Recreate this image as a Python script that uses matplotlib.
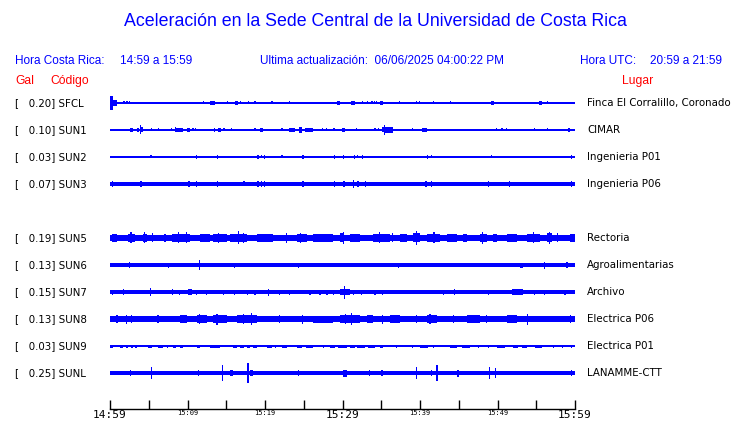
import numpy as np
import matplotlib
matplotlib.use('Agg')
import matplotlib.pyplot as plt
import matplotlib.transforms as mtransforms

# stations (top to bottom), row 4 is left empty in the original display
stations = ['SFCL', 'SUN1', 'SUN2', 'SUN3', 'SUN5', 'SUN6', 'SUN7', 'SUN8', 'SUN9', 'SUNL']
rows = [0, 1, 2, 3, 5, 6, 7, 8, 9, 10]
gal = [0.20, 0.10, 0.03, 0.07, 0.19, 0.13, 0.15, 0.13, 0.03, 0.25]
places = ['Finca El Corralillo, Coronado', 'CIMAR', 'Ingenieria P01', 'Ingenieria P06',
          'Rectoria', 'Agroalimentarias', 'Archivo', 'Electrica P06', 'Electrica P01',
          'LANAMME-CTT']

# background noise level of each trace (display units)
base = [0.7, 0.7, 0.6, 1.8, 3.3, 1.6, 1.8, 2.7, 0.6, 1.8]

# bursts: (start minute, end minute, half amplitude)
sfcl_events = [(0.0, 0.4, 7), (0.4, 0.9, 3), (1.8, 1.8, 1.5), (2.2, 2.2, 1.5), (2.5, 2.5, 1.5),
               (12.1, 12.1, 1.5), (12.9, 13.5, 2), (13.8, 13.8, 1.2), (15.2, 15.2, 1.5),
               (15.5, 15.5, 1.2), (16.1, 16.5, 2), (16.8, 16.8, 1.5), (17.9, 17.9, 1.5),
               (18.7, 18.7, 1.5), (20.9, 20.9, 1.5), (22.6, 22.6, 1.2), (23.2, 23.2, 1.5),
               (28.3, 28.3, 1.2), (29.3, 29.7, 2.2), (30.7, 30.7, 1.2), (31.1, 31.6, 2.2),
               (32.6, 32.6, 1.5), (33.2, 33.2, 1.5), (33.8, 33.8, 1.5), (34.1, 34.1, 1.5),
               (34.4, 34.4, 1.5), (34.8, 35.2, 2.2), (37.4, 37.4, 1.5), (39.6, 39.6, 1.5),
               (39.9, 39.9, 1.5), (41.7, 41.7, 1.5), (43.9, 43.9, 1.5), (47.2, 47.2, 1.2),
               (48.4, 48.4, 1.2), (49.2, 49.5, 2.2), (50.2, 50.2, 1.2), (51.9, 51.9, 1.2),
               (55.3, 55.7, 2.2), (56.4, 56.4, 1.5), (57.8, 57.8, 1.2)]
sun1_events = [(0.3, 0.3, 1.2), (2.6, 3.0, 2), (3.5, 3.8, 2), (3.9, 3.9, 4.5), (4.0, 4.2, 2.5),
               (5.4, 5.4, 1.5), (5.8, 5.8, 1.2), (6.3, 6.3, 1.5), (7.9, 7.9, 1.5), (8.4, 9.4, 2),
               (8.5, 8.5, 2.5), (9.9, 10.3, 2), (10.7, 10.7, 1.5), (11.0, 11.0, 1.5),
               (13.5, 13.5, 2), (13.9, 14.3, 2), (14.7, 14.7, 1.5), (15.7, 15.7, 1.5),
               (16.5, 16.5, 1.2), (18.7, 18.7, 1.5), (19.4, 19.7, 2.2), (21.9, 21.9, 1.2),
               (22.2, 22.2, 1.5), (23.1, 23.9, 2.2), (24.4, 24.8, 3), (25.2, 26.2, 2.2),
               (27.4, 27.4, 1.5), (27.9, 27.9, 1.5), (28.6, 28.6, 1.2), (28.9, 28.9, 1.5),
               (29.9, 30.3, 2), (30.6, 30.6, 1.2), (31.7, 31.9, 1.5), (33.4, 33.4, 1.2),
               (33.8, 33.8, 1.2), (34.2, 34.2, 1.5), (34.6, 34.6, 1.5), (35.1, 35.3, 2.5),
               (35.4, 35.4, 5), (35.5, 36.5, 3), (37.0, 37.0, 1.2), (37.8, 37.8, 1.2),
               (39.0, 39.0, 1.5), (40.2, 40.9, 1.8), (42.2, 42.2, 1.2), (42.8, 42.8, 1.2),
               (46.2, 46.2, 1.2), (49.9, 49.9, 1.5), (50.4, 50.7, 1.5), (51.2, 51.2, 1.5),
               (51.9, 51.9, 1.2), (54.8, 54.8, 1.5), (56.4, 56.4, 1.5), (57.0, 57.0, 1.2),
               (59.1, 59.3, 2)]
sun2_events = [(5.3, 5.3, 1.5), (8.9, 8.9, 1.2), (9.8, 9.8, 1.2), (11.2, 11.2, 2), (13.9, 13.9, 2),
               (19.1, 19.1, 2), (19.5, 19.5, 1.5), (19.9, 19.9, 2), (22.2, 22.2, 1.5),
               (24.9, 24.9, 2), (28.6, 28.6, 1.2), (29.0, 29.0, 2), (30.1, 30.1, 2),
               (31.2, 31.2, 1.2), (31.5, 31.5, 2), (31.9, 31.9, 1.5), (32.6, 32.6, 2),
               (39.7, 39.7, 1.2), (40.6, 40.6, 1.2), (41.0, 41.0, 2), (41.5, 41.5, 1.5),
               (49.2, 49.2, 1.5), (51.5, 51.5, 1.2), (55.1, 55.1, 1.2), (59.6, 59.6, 2)]
sun3_events = [(0.3, 0.3, 3), (4.0, 4.0, 3), (10.2, 10.2, 3), (11.2, 11.2, 3), (13.9, 13.9, 3),
               (17.3, 17.3, 2.5), (19.1, 19.1, 3), (19.5, 19.5, 3), (19.9, 19.9, 3),
               (24.9, 24.9, 3), (29.0, 29.0, 3), (30.2, 30.2, 3), (31.4, 31.4, 4),
               (32.0, 32.0, 3), (33.0, 33.0, 3), (40.6, 40.9, 3), (41.5, 41.5, 3),
               (48.8, 48.8, 3), (51.5, 51.5, 3), (59.6, 59.6, 3)]
sun5_events = [(0.3, 0.9, 4), (2.3, 3.2, 4.3), (2.7, 2.7, 5.5), (4.3, 4.8, 4.3), (4.5, 4.5, 5.5),
               (5.5, 5.5, 4.5), (7.1, 7.1, 4), (8.0, 10.3, 3.9), (8.8, 8.8, 5.5), (9.9, 9.9, 5.5),
               (11.6, 12.9, 3.8), (13.3, 15.1, 4.2), (14.0, 14.0, 5.3), (15.5, 17.7, 4.3),
               (16.6, 16.6, 6.5), (17.2, 17.2, 5.3), (19.0, 21.0, 3.8), (22.8, 22.8, 5),
               (24.1, 25.4, 4.2), (24.6, 24.6, 5.3), (26.2, 28.8, 3.8), (29.7, 30.1, 4.5),
               (30.1, 30.1, 6), (31.0, 32.3, 3.8), (33.9, 36.1, 4.2), (34.8, 34.8, 5.5),
               (36.4, 36.4, 4.5), (37.4, 38.3, 3.8), (39.1, 40.0, 4.5), (39.6, 39.6, 7),
               (40.9, 42.6, 4.2), (41.8, 41.8, 5.5), (43.5, 44.8, 3.8), (45.5, 46.1, 3.8),
               (47.7, 48.6, 4.3), (48.1, 48.1, 6), (49.4, 49.9, 3.8), (51.2, 52.5, 3.8),
               (53.8, 55.5, 4.3), (54.6, 54.6, 5.5), (56.4, 57.0, 4.5), (56.7, 56.7, 6),
               (57.7, 57.7, 4.5), (59.4, 60.0, 4)]
sun6_events = [(0.3, 0.6, 2.2), (1.3, 1.3, 2), (2.5, 2.5, 3), (7.5, 7.5, 2.5), (9.9, 10.7, 2.3),
               (11.2, 11.2, 2.2), (11.5, 11.5, 5), (16.1, 16.1, 2.5), (21.8, 21.8, 2),
               (24.3, 24.3, 2.5), (26.2, 26.2, 2.2), (28.0, 28.0, 2.2), (37.2, 37.2, 2.5),
               (39.0, 39.0, 2.2), (43.0, 43.0, 2), (52.9, 53.3, 2.5), (54.5, 54.5, 2.2),
               (56.1, 56.1, 3.5), (58.8, 59.1, 3)]
sun7_events = [(0.3, 0.3, 2.5), (1.7, 1.7, 3), (5.2, 5.2, 4), (8.1, 8.1, 3), (9.0, 9.0, 2.5),
               (10.1, 10.6, 3), (11.2, 11.2, 2.5), (12.5, 12.5, 2.5), (14.6, 14.6, 2.5),
               (16.1, 16.1, 2.5), (17.7, 17.7, 2.5), (18.7, 18.7, 2.5), (20.5, 20.5, 3.5),
               (21.9, 21.9, 2.5), (23.2, 23.2, 2.5), (25.8, 25.8, 2.5), (27.1, 27.1, 2.5),
               (28.0, 28.0, 2.5), (28.8, 28.8, 2.5), (29.7, 31.0, 3.2), (30.3, 30.3, 6.5),
               (31.4, 31.4, 2.5), (32.5, 32.5, 2.5), (34.2, 34.2, 2.5), (35.2, 35.2, 2.5),
               (43.0, 43.0, 2.5), (44.4, 44.4, 3), (48.8, 48.8, 2.5), (51.9, 53.3, 2.6),
               (54.8, 54.8, 2.5), (56.1, 56.1, 2.5), (58.7, 58.7, 2.5)]
sun8_events = [(0.0, 3.5, 3.2), (0.9, 0.9, 4), (2.1, 2.1, 4.5), (2.8, 2.8, 4), (4.3, 9.0, 3.0),
               (6.2, 6.2, 4), (9.0, 9.9, 3.6), (11.2, 12.5, 3.8), (11.6, 11.6, 5),
               (13.3, 15.1, 3.9), (13.8, 13.8, 5.5), (16.4, 19.0, 3.9), (18.3, 18.3, 6),
               (17.2, 17.2, 5), (21.9, 21.9, 4), (24.8, 24.8, 4.5), (26.2, 28.8, 3.5),
               (29.7, 32.3, 3.9), (31.2, 31.2, 6), (30.4, 30.4, 5), (33.2, 33.9, 3.6),
               (35.2, 35.2, 4.5), (36.1, 37.4, 3.6), (39.6, 39.6, 4), (40.9, 42.2, 3.9),
               (41.3, 41.3, 5), (44.3, 44.3, 4), (46.1, 47.7, 3.6), (48.6, 48.6, 4),
               (51.2, 52.5, 3.6), (53.9, 53.9, 5.5), (55.5, 57.7, 3.3), (59.4, 59.4, 4)]
sun9_events = [(0.0, 0.4, 1.5), (1.3, 1.7, 1.5), (2.2, 2.2, 1.5), (2.7, 3.0, 1.5), (3.2, 3.5, 1.5),
               (4.9, 5.4, 1.5), (6.2, 6.8, 1.5), (7.4, 7.4, 1.5), (8.1, 8.5, 1.5), (9.0, 9.4, 1.5),
               (11.2, 11.6, 1.5), (12.9, 14.2, 1.5), (15.9, 16.4, 1.5), (16.8, 17.3, 1.5),
               (17.7, 18.1, 1.5), (18.4, 19.0, 1.5), (20.3, 20.9, 1.5), (21.4, 21.4, 1.5),
               (22.2, 22.8, 1.5), (24.1, 24.8, 1.5), (25.3, 26.2, 1.5), (27.5, 27.5, 1.5),
               (28.4, 29.0, 1.5), (29.4, 30.6, 1.5), (31.0, 31.6, 1.5), (31.9, 32.9, 1.5),
               (33.3, 34.2, 1.5), (34.8, 35.2, 1.5), (37.0, 37.0, 1.5), (39.0, 39.0, 1.5),
               (40.0, 41.0, 1.5), (41.7, 41.7, 1.5), (43.9, 44.8, 1.5), (45.4, 46.4, 1.5),
               (47.5, 47.5, 1.5), (48.8, 48.8, 1.5), (49.9, 51.0, 1.5), (52.0, 52.6, 1.5),
               (53.2, 53.8, 1.5), (54.8, 55.7, 1.5), (57.2, 57.2, 1.5), (58.4, 58.4, 1.5),
               (59.6, 59.6, 1.5)]
sunl_events = [(0.3, 0.3, 2.2), (1.3, 1.3, 2.2), (2.6, 2.6, 2.8), (5.4, 5.4, 6), (6.8, 6.8, 2.2),
               (8.8, 8.8, 2.2), (9.4, 9.4, 2.2), (10.3, 10.3, 2.2), (11.4, 11.4, 2.8),
               (14.5, 14.5, 8), (15.5, 15.9, 3), (17.8, 17.8, 10), (18.1, 18.4, 3.2),
               (20.4, 20.4, 2.2), (21.9, 21.9, 2.2), (22.6, 22.6, 2.2), (24.3, 24.3, 3),
               (26.2, 26.2, 2.2), (28.1, 28.1, 2.2), (30.1, 30.6, 3.5), (31.2, 31.2, 2.2),
               (32.3, 32.3, 2.2), (33.5, 33.5, 2.8), (35.1, 35.1, 3), (35.9, 35.9, 2.2),
               (37.0, 37.0, 2.2), (38.1, 38.1, 2.2), (39.1, 39.1, 2.2), (39.6, 39.6, 6),
               (41.5, 41.5, 3), (42.2, 42.2, 8), (43.5, 43.5, 2.2), (44.9, 44.9, 3.5),
               (49.0, 49.0, 6), (49.7, 49.7, 5), (50.7, 50.7, 2.2), (52.0, 52.0, 2.2),
               (53.9, 53.9, 2.2), (55.2, 55.2, 2.2), (57.2, 57.2, 2.2), (58.3, 58.3, 2.2),
               (59.6, 59.6, 3)]
events = [sfcl_events, sun1_events, sun2_events, sun3_events, sun5_events,
          sun6_events, sun7_events, sun8_events, sun9_events, sunl_events]

# time axis, minutes after 14:59
tick_minutes = list(range(0, 61, 5))
tick_labels = ['14:59', '', '15:09', '', '15:19', '', '15:29', '', '15:39', '', '15:49', '', '15:59']
big_labels = ['14:59', '15:29', '15:59']

blue = '#0000ff'
red = '#ff0000'
W, H = 740, 423
spacing = 27

fig = plt.figure(figsize=(7.4, 4.23), dpi=100)
ax = fig.add_axes([110 / W, 1 - 409 / H, 465 / W, 319 / H])
ax.set_xlim(0, 60)
ax.set_ylim(409 - 103, 90 - 103)

for i in range(len(stations)):
    off = rows[i] * spacing
    b = base[i]
    ax.fill_between([0, 60], off - b, off + b, color=blue, linewidth=0)
    t0 = np.array([e[0] for e in events[i]])
    t1 = np.array([e[1] for e in events[i]])
    amp = np.array([e[2] for e in events[i]])
    width = np.maximum(t1 - t0, 0.15)
    ax.bar((t0 + t1) / 2, 2 * amp, width=width, bottom=off - amp, color=blue,
           linewidth=0, antialiased=False)

# row labels
trans = mtransforms.blended_transform_factory(ax.transAxes, ax.transData)
for i in range(len(stations)):
    off = rows[i] * spacing
    ax.text(-95 / 465, off, '[   %.2f] %s' % (gal[i], stations[i]), transform=trans,
            ha='left', va='center', fontsize=7.4, family='DejaVu Sans', color='black')
    ax.text(477 / 465, off, places[i], transform=trans,
            ha='left', va='center', fontsize=7.4, family='DejaVu Sans', color='black')

for s in ['top', 'left', 'right']:
    ax.spines[s].set_visible(False)
ax.spines['bottom'].set_linewidth(1)
ax.set_yticks([])
ax.set_xticks(tick_minutes)
ax.set_xticklabels(tick_labels)
ax.tick_params(axis='x', direction='in', length=6.5, width=1, pad=1)
for lab in ax.get_xticklabels():
    lab.set_family('DejaVu Sans Mono')
    if lab.get_text() in big_labels:
        lab.set_fontsize(8)
    else:
        lab.set_fontsize(5)

# header texts
hfont = 'Liberation Sans'
fig.text(0.508, 1 - 22 / H, 'Aceleración en la Sede Central de la Universidad de Costa Rica',
         ha='center', va='center', fontsize=12.8, family=hfont, color=blue)
yh = 1 - 61 / H
fig.text(15 / W, yh, 'Hora Costa Rica:', va='center', fontsize=8.5, family=hfont, color=blue)
fig.text(120 / W, yh, '14:59 a 15:59', va='center', fontsize=8.5, family=hfont, color=blue)
fig.text(260 / W, yh, 'Ultima actualización:  06/06/2025 04:00:22 PM', va='center',
         fontsize=8.5, family=hfont, color=blue)
fig.text(580 / W, yh, 'Hora UTC:', va='center', fontsize=8.5, family=hfont, color=blue)
fig.text(650 / W, yh, '20:59 a 21:59', va='center', fontsize=8.5, family=hfont, color=blue)
yr = 1 - 81 / H
fig.text(15 / W, yr, 'Gal', va='center', fontsize=8.7, family=hfont, color=red)
fig.text(50 / W, yr, 'Código', va='center', fontsize=8.7, family=hfont, color=red)
fig.text(622 / W, yr, 'Lugar', va='center', fontsize=8.7, family=hfont, color=red)

plt.savefig('out.png', dpi=100)
